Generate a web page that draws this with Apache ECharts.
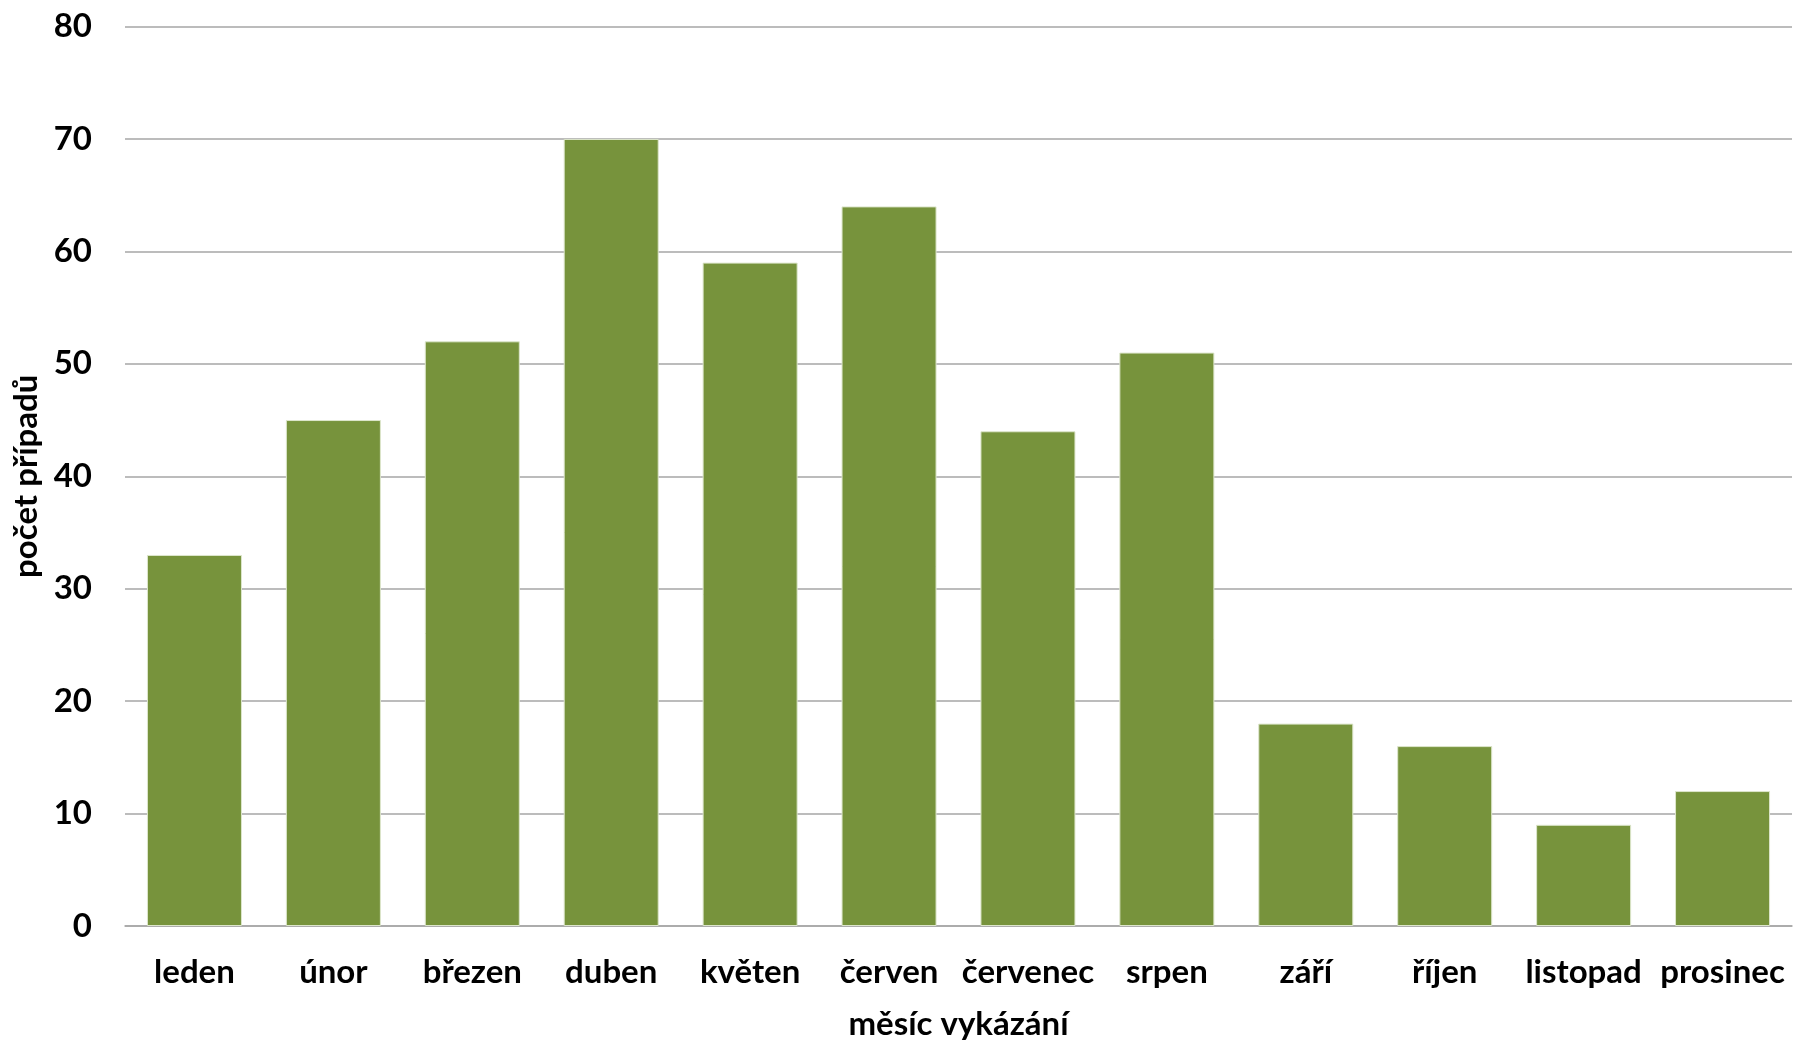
<!DOCTYPE html>
<html>
<head>
<meta charset="utf-8">
<script src="https://cdn.jsdelivr.net/npm/echarts@6/dist/echarts.min.js"></script>
<style>
html,body{margin:0;padding:0;background:#fff;}
#chart{width:1793px;height:1046px;}
</style>
</head>
<body>
<div id="chart"></div>
<script>
const categories = ['leden','únor','březen','duben','květen','červen','červenec','srpen','září','říjen','listopad','prosinec'];
const values = [33,45,52,70,59,64,44,51,18,16,9,12];
const xAxisName = 'měsíc vykázání';
const yAxisName = 'počet případů';

const FONT = 'Lato';
const chart = echarts.init(document.getElementById('chart'));
chart.setOption({
  animation: false,
  backgroundColor: '#ffffff',
  grid: { left: 125, right: 1, top: 26.5, bottom: 115.5, containLabel: false },
  xAxis: {
    type: 'category',
    data: categories,
    name: xAxisName,
    nameLocation: 'middle',
    nameGap: 82,
    nameTextStyle: { fontFamily: FONT, fontWeight: 'bold', fontSize: 33, color: '#000' },
    axisLine: { lineStyle: { color: '#a6a6a6', width: 1.5 } },
    axisTick: { show: false },
    axisLabel: { fontFamily: FONT, fontWeight: 'bold', fontSize: 33, color: '#000', margin: 30, interval: 0 }
  },
  yAxis: {
    type: 'value',
    min: 0, max: 80, interval: 10,
    name: yAxisName,
    nameLocation: 'middle',
    nameGap: 80,
    nameTextStyle: { fontFamily: FONT, fontWeight: 'bold', fontSize: 33, color: '#000' },
    axisLine: { show: false },
    axisTick: { show: false },
    axisLabel: { fontFamily: FONT, fontWeight: 'bold', fontSize: 33, color: '#000', margin: 33 },
    splitLine: { lineStyle: { color: '#a6a6a6', width: 1.5 } }
  },
  series: [{
    type: 'bar',
    data: values,
    barCategoryGap: '31.6%',
    itemStyle: { color: '#77933C', borderColor: '#dde6cc', borderWidth: 1 }
  }]
});
</script>
</body>
</html>
